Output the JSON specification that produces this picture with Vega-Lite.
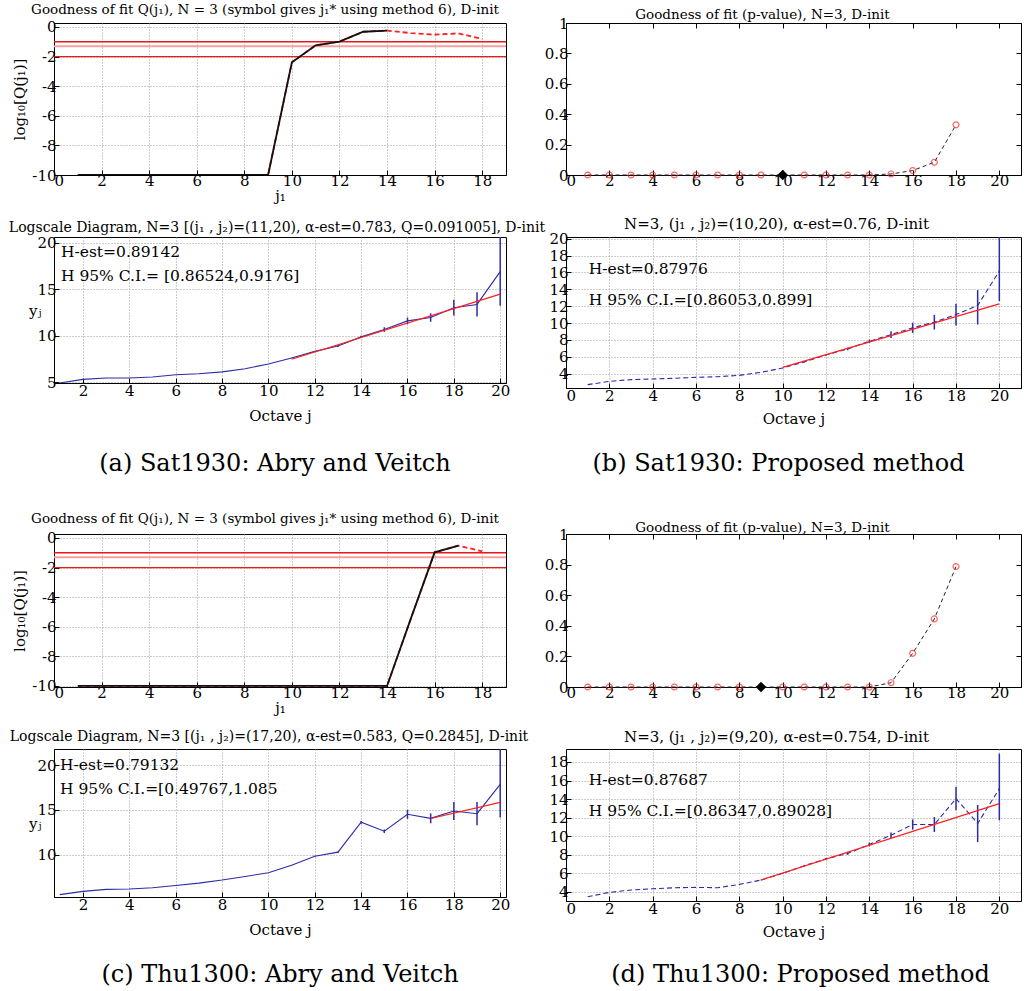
{
  "$schema": "https://vega.github.io/schema/vega-lite/v6.json",
  "padding": {"left": 8, "top": 2, "right": 0, "bottom": 0},
  "background": "white",
  "config": {
    "font": "DejaVu Serif",
    "view": {"stroke": "black", "strokeWidth": 1},
    "axis": {
      "domainColor": "black", "tickColor": "black", "labelColor": "black",
      "labelFont": "DejaVu Serif", "labelFontSize": 15, "labelPadding": 3, "labelOverlap": false,
      "gridColor": "#9a9a9a", "gridDash": [1, 2], "gridOpacity": 1, "gridWidth": 1,
      "ticks": true, "tickSize": -5,
      "titleFont": "DejaVu Serif", "titleFontWeight": "normal", "titleFontSize": 15, "titleColor": "black"
    },
    "title": {"font": "DejaVu Serif", "fontSize": 13.5, "fontWeight": "normal", "color": "black"}
  },
  "datasets": {
    "thr": [{"level": "p10", "v": -1}, {"level": "p05", "v": -1.301}, {"level": "p01", "v": -2}],
    "aq": [
      {"j": 1, "q": -10}, {"j": 2, "q": -10}, {"j": 3, "q": -10}, {"j": 4, "q": -10}, {"j": 5, "q": -10},
      {"j": 6, "q": -10}, {"j": 7, "q": -10}, {"j": 8, "q": -10}, {"j": 9, "q": -10}, {"j": 10, "q": -2.39},
      {"j": 11, "q": -1.24}, {"j": 12, "q": -0.99}, {"j": 13, "q": -0.32}, {"j": 14, "q": -0.25}, {"j": 15, "q": -0.41},
      {"j": 16, "q": -0.52}, {"j": 17, "q": -0.43}, {"j": 18, "q": -0.81}
    ],
    "cq": [
      {"j": 1, "q": -10}, {"j": 2, "q": -10}, {"j": 3, "q": -10}, {"j": 4, "q": -10}, {"j": 5, "q": -10},
      {"j": 6, "q": -10}, {"j": 7, "q": -10}, {"j": 8, "q": -10}, {"j": 9, "q": -10}, {"j": 10, "q": -10},
      {"j": 11, "q": -10}, {"j": 12, "q": -10}, {"j": 13, "q": -10}, {"j": 14, "q": -10}, {"j": 15, "q": -5.45},
      {"j": 16, "q": -0.97}, {"j": 17, "q": -0.52}, {"j": 18, "q": -0.9}
    ],
    "bp": [
      {"j": 1, "p": 0}, {"j": 2, "p": 0}, {"j": 3, "p": 0}, {"j": 4, "p": 0}, {"j": 5, "p": 0},
      {"j": 6, "p": 0}, {"j": 7, "p": 0}, {"j": 8, "p": 0}, {"j": 9, "p": 0}, {"j": 10, "p": 0},
      {"j": 11, "p": 0}, {"j": 12, "p": 0}, {"j": 13, "p": 0}, {"j": 14, "p": 0}, {"j": 15, "p": 0.007},
      {"j": 16, "p": 0.029}, {"j": 17, "p": 0.084}, {"j": 18, "p": 0.33}
    ],
    "dp": [
      {"j": 1, "p": 0}, {"j": 2, "p": 0}, {"j": 3, "p": 0}, {"j": 4, "p": 0}, {"j": 5, "p": 0},
      {"j": 6, "p": 0}, {"j": 7, "p": 0}, {"j": 8, "p": 0}, {"j": 9, "p": 0}, {"j": 10, "p": 0},
      {"j": 11, "p": 0}, {"j": 12, "p": 0}, {"j": 13, "p": 0}, {"j": 14, "p": 0}, {"j": 15, "p": 0.028},
      {"j": 16, "p": 0.22}, {"j": 17, "p": 0.445}, {"j": 18, "p": 0.787}
    ],
    "bstar": [{"j": 10, "p": 0}],
    "dstar": [{"j": 9, "p": 0}],
    "ab": [
      {"j": 1, "y": 4.9, "lo": 4.9, "hi": 4.9}, {"j": 2, "y": 5.29, "lo": 5.29, "hi": 5.29},
      {"j": 3, "y": 5.43, "lo": 5.43, "hi": 5.43}, {"j": 4, "y": 5.43, "lo": 5.43, "hi": 5.43},
      {"j": 5, "y": 5.54, "lo": 5.54, "hi": 5.54}, {"j": 6, "y": 5.79, "lo": 5.79, "hi": 5.79},
      {"j": 7, "y": 5.9, "lo": 5.9, "hi": 5.9}, {"j": 8, "y": 6.1, "lo": 6.1, "hi": 6.1},
      {"j": 9, "y": 6.44, "lo": 6.44, "hi": 6.44}, {"j": 10, "y": 6.94, "lo": 6.94, "hi": 6.94},
      {"j": 11, "y": 7.59, "lo": 7.57, "hi": 7.61}, {"j": 12, "y": 8.3, "lo": 8.25, "hi": 8.35},
      {"j": 13, "y": 8.88, "lo": 8.78, "hi": 8.98}, {"j": 14, "y": 9.86, "lo": 9.74, "hi": 9.98},
      {"j": 15, "y": 10.65, "lo": 10.4, "hi": 10.9}, {"j": 16, "y": 11.58, "lo": 11.22, "hi": 11.94},
      {"j": 17, "y": 11.94, "lo": 11.49, "hi": 12.39}, {"j": 18, "y": 13.0, "lo": 12.15, "hi": 13.85},
      {"j": 19, "y": 13.35, "lo": 12.05, "hi": 14.65}, {"j": 20, "y": 16.87, "lo": 13.2, "hi": 20.6}
    ],
    "bb": [
      {"j": 1, "y": 2.7, "lo": 2.7, "hi": 2.7}, {"j": 2, "y": 3.09, "lo": 3.09, "hi": 3.09},
      {"j": 3, "y": 3.29, "lo": 3.29, "hi": 3.29}, {"j": 4, "y": 3.37, "lo": 3.37, "hi": 3.37},
      {"j": 5, "y": 3.45, "lo": 3.45, "hi": 3.45}, {"j": 6, "y": 3.56, "lo": 3.56, "hi": 3.56},
      {"j": 7, "y": 3.64, "lo": 3.64, "hi": 3.64}, {"j": 8, "y": 3.8, "lo": 3.8, "hi": 3.8},
      {"j": 9, "y": 4.16, "lo": 4.16, "hi": 4.16}, {"j": 10, "y": 4.67, "lo": 4.65, "hi": 4.69},
      {"j": 11, "y": 5.39, "lo": 5.34, "hi": 5.44}, {"j": 12, "y": 6.22, "lo": 6.14, "hi": 6.3},
      {"j": 13, "y": 6.93, "lo": 6.78, "hi": 7.08}, {"j": 14, "y": 7.84, "lo": 7.64, "hi": 8.04},
      {"j": 15, "y": 8.63, "lo": 8.23, "hi": 9.03}, {"j": 16, "y": 9.43, "lo": 8.83, "hi": 10.03},
      {"j": 17, "y": 10.1, "lo": 9.23, "hi": 10.97}, {"j": 18, "y": 11.0, "lo": 9.7, "hi": 12.3},
      {"j": 19, "y": 12.08, "lo": 9.82, "hi": 13.9}, {"j": 20, "y": 16.16, "lo": 12.6, "hi": 20.2}
    ],
    "cb": [
      {"j": 1, "y": 5.56, "lo": 5.56, "hi": 5.56}, {"j": 2, "y": 5.93, "lo": 5.93, "hi": 5.93},
      {"j": 3, "y": 6.15, "lo": 6.15, "hi": 6.15}, {"j": 4, "y": 6.19, "lo": 6.19, "hi": 6.19},
      {"j": 5, "y": 6.33, "lo": 6.33, "hi": 6.33}, {"j": 6, "y": 6.59, "lo": 6.59, "hi": 6.59},
      {"j": 7, "y": 6.85, "lo": 6.85, "hi": 6.85}, {"j": 8, "y": 7.19, "lo": 7.19, "hi": 7.19},
      {"j": 9, "y": 7.59, "lo": 7.59, "hi": 7.59}, {"j": 10, "y": 8.0, "lo": 8.0, "hi": 8.0},
      {"j": 11, "y": 8.85, "lo": 8.83, "hi": 8.87}, {"j": 12, "y": 9.85, "lo": 9.81, "hi": 9.89},
      {"j": 13, "y": 10.3, "lo": 10.22, "hi": 10.38}, {"j": 14, "y": 13.63, "lo": 13.48, "hi": 13.78},
      {"j": 15, "y": 12.63, "lo": 12.43, "hi": 12.83}, {"j": 16, "y": 14.52, "lo": 14.02, "hi": 15.02},
      {"j": 17, "y": 14.07, "lo": 13.52, "hi": 14.62}, {"j": 18, "y": 14.89, "lo": 13.89, "hi": 15.89},
      {"j": 19, "y": 14.59, "lo": 13.29, "hi": 15.89}, {"j": 20, "y": 17.85, "lo": 14.15, "hi": 21.7}
    ],
    "db": [
      {"j": 1, "y": 3.46, "lo": 3.46, "hi": 3.46}, {"j": 2, "y": 3.93, "lo": 3.93, "hi": 3.93},
      {"j": 3, "y": 4.18, "lo": 4.18, "hi": 4.18}, {"j": 4, "y": 4.32, "lo": 4.32, "hi": 4.32},
      {"j": 5, "y": 4.43, "lo": 4.43, "hi": 4.43}, {"j": 6, "y": 4.47, "lo": 4.47, "hi": 4.47},
      {"j": 7, "y": 4.43, "lo": 4.43, "hi": 4.43}, {"j": 8, "y": 4.79, "lo": 4.79, "hi": 4.79},
      {"j": 9, "y": 5.26, "lo": 5.24, "hi": 5.28}, {"j": 10, "y": 5.97, "lo": 5.92, "hi": 6.02},
      {"j": 11, "y": 6.8, "lo": 6.73, "hi": 6.87}, {"j": 12, "y": 7.55, "lo": 7.45, "hi": 7.65},
      {"j": 13, "y": 8.13, "lo": 7.98, "hi": 8.28}, {"j": 14, "y": 9.1, "lo": 8.9, "hi": 9.3},
      {"j": 15, "y": 10.1, "lo": 9.8, "hi": 10.4}, {"j": 16, "y": 11.25, "lo": 10.7, "hi": 11.8},
      {"j": 17, "y": 11.25, "lo": 10.45, "hi": 12.05}, {"j": 18, "y": 14.05, "lo": 12.8, "hi": 15.3},
      {"j": 19, "y": 11.36, "lo": 9.36, "hi": 13.36}, {"j": 20, "y": 15.13, "lo": 11.7, "hi": 18.9}
    ],
    "af": [{"j": 11, "y": 7.45}, {"j": 20, "y": 14.45}],
    "bf": [{"j": 10, "y": 4.75}, {"j": 20, "y": 12.28}],
    "cf": [{"j": 17, "y": 14.05}, {"j": 20, "y": 15.85}],
    "df": [{"j": 9, "y": 5.26}, {"j": 20, "y": 13.5}],
    "at": [{"j": 1.05, "y": 19.0, "t": "H-est=0.89142"}, {"j": 1.05, "y": 16.4, "t": "H 95% C.I.= [0.86524,0.9176]"}],
    "bt": [{"j": 1.05, "y": 16.4, "t": "H-est=0.87976"}, {"j": 1.05, "y": 12.7, "t": "H 95% C.I.=[0.86053,0.899]"}],
    "ct": [{"j": 1.01, "y": 20.0, "t": "H-est=0.79132"}, {"j": 1.01, "y": 17.3, "t": "H 95% C.I.=[0.49767,1.085"}],
    "dt": [{"j": 1.05, "y": 16.05, "t": "H-est=0.87687"}, {"j": 1.05, "y": 12.7, "t": "H 95% C.I.=[0.86347,0.89028]"}],
    "capa": [{"cap": "(a) Sat1930: Abry and Veitch"}],
    "capb": [{"cap": "(b) Sat1930: Proposed method"}],
    "capc": [{"cap": "(c) Thu1300: Abry and Veitch"}],
    "capd": [{"cap": "(d) Thu1300: Proposed method"}]
  },
  "bounds": "flush",
  "align": "each",
  "columns": 2,
  "spacing": {"row": 62, "column": 60},
  "concat": [
    {
      "width": 452, "height": 152,
      "title": {"text": "Goodness of fit Q(j₁), N = 3 (symbol gives j₁* using method 6), D-init", "dx": -15, "offset": 3},
      "layer": [
        {"data": {"name": "thr"}, "transform": [{"filter": "datum.level == 'p05'"}], "mark": {"type": "rule", "clip": true, "color": "#f5a0a0", "strokeWidth": 2.2},
         "encoding": {
           "y": {"field": "v", "type": "quantitative", "scale": {"domain": [-10, 0.27], "nice": false, "zero": false},
                 "axis": {"values": [0, -2, -4, -6, -8, -10], "tickCount": 50, "title": "log₁₀[Q(j₁)]", "labelExpr": "'' + datum.value", "grid": true}}}},
        {"data": {"name": "thr"}, "transform": [{"filter": "datum.level != 'p05'"}], "mark": {"type": "rule", "clip": true, "color": "#e8191a", "strokeWidth": 1.4},
         "encoding": {"y": {"field": "v", "type": "quantitative"}}},
        {"data": {"name": "aq"}, "mark": {"type": "line", "color": "#ff1f1f", "strokeDash": [5, 3], "strokeWidth": 1.8, "clip": true},
         "encoding": {
           "x": {"field": "j", "type": "quantitative", "scale": {"domain": [0, 19], "nice": false}, "axis": {"values": [0, 2, 4, 6, 8, 10, 12, 14, 16, 18], "tickCount": 50, "labelExpr": "'' + datum.value", "title": "j₁", "grid": true, "titlePadding": 0}},
           "y": {"field": "q", "type": "quantitative"}}},
        {"data": {"name": "aq"}, "transform": [{"filter": "datum.j <= 14"}], "mark": {"type": "line", "color": "#111", "strokeWidth": 1.8, "clip": true},
         "encoding": {"x": {"field": "j", "type": "quantitative"}, "y": {"field": "q", "type": "quantitative"}}}
      ]
    },
    {
      "width": 455, "height": 152,
      "title": {"text": "Goodness of fit (p-value), N=3, D-init", "dx": -31, "offset": -5},
      "resolve": {"axis": {"x": "independent", "y": "independent"}},
      "layer": [
        {"data": {"name": "bp"}, "mark": {"type": "line", "color": "#222", "strokeDash": [4, 3], "strokeWidth": 1},
         "encoding": {
           "x": {"field": "j", "type": "quantitative", "scale": {"domain": [0, 21], "nice": false}, "axis": {"values": [0, 2, 4, 6, 8, 10, 12, 14, 16, 18, 20], "tickCount": 50, "labelExpr": "'' + datum.value", "title": null, "grid": false}},
           "y": {"field": "p", "type": "quantitative", "scale": {"domain": [0, 1], "nice": false}, "axis": {"values": [0, 0.2, 0.4, 0.6, 0.8, 1], "tickCount": 50, "labelExpr": "'' + datum.value", "title": null, "grid": false}}}},
        {"data": {"name": "bp"}, "mark": {"type": "point", "shape": "circle", "filled": false, "color": "#ff2020", "size": 35, "strokeWidth": 1.2},
         "encoding": {
           "x": {"field": "j", "type": "quantitative", "axis": {"orient": "top", "values": [0, 2, 4, 6, 8, 10, 12, 14, 16, 18, 20], "tickCount": 50, "labels": false, "domain": false, "grid": false, "title": null}},
           "y": {"field": "p", "type": "quantitative", "axis": {"orient": "right", "values": [0, 0.2, 0.4, 0.6, 0.8, 1], "tickCount": 50, "labels": false, "domain": false, "grid": false, "title": null}}}},
        {"data": {"name": "bstar"}, "mark": {"type": "point", "shape": "diamond", "filled": true, "color": "black", "size": 110, "opacity": 1},
         "encoding": {"x": {"field": "j", "type": "quantitative", "axis": null}, "y": {"field": "p", "type": "quantitative", "axis": null}}}
      ]
    },
    {
      "width": 452, "height": 146,
      "title": {"text": "Logscale Diagram, N=3 [(j₁ , j₂)=(11,20), α-est=0.783, Q=0.091005], D-init", "fontSize": 14, "dx": -3, "offset": 1},
      "layer": [
        {"data": {"name": "ab"}, "mark": {"type": "line", "color": "#2c2ca6", "strokeWidth": 1.1, "clip": true},
         "encoding": {
           "x": {"field": "j", "type": "quantitative", "scale": {"domain": [0.75, 20.25], "nice": false, "zero": false}, "axis": {"values": [2, 4, 6, 8, 10, 12, 14, 16, 18, 20], "tickCount": 50, "labelExpr": "'' + datum.value", "title": "Octave j", "grid": true, "labelPadding": 5, "titlePadding": 10}},
           "y": {"field": "y", "type": "quantitative", "scale": {"domain": [4.9, 20.6], "nice": false, "zero": false}, "axis": {"values": [5, 10, 15, 20], "tickCount": 50, "labelExpr": "'' + datum.value", "title": "yⱼ", "titleAngle": 0, "titleAlign": "right", "titleBaseline": "middle", "titlePadding": -4, "grid": true}}}},
        {"data": {"name": "ab"}, "mark": {"type": "rule", "color": "#2c2ca6", "strokeWidth": 1.5, "clip": true},
         "encoding": {"x": {"field": "j", "type": "quantitative"}, "y": {"field": "lo", "type": "quantitative"}, "y2": {"field": "hi"}}},
        {"data": {"name": "af"}, "mark": {"type": "line", "color": "#ff1f1f", "strokeWidth": 1.2, "clip": true},
         "encoding": {"x": {"field": "j", "type": "quantitative"}, "y": {"field": "y", "type": "quantitative"}}},
        {"data": {"name": "at"}, "mark": {"type": "text", "align": "left", "baseline": "middle", "fontSize": 15.5, "font": "DejaVu Serif", "color": "black"},
         "encoding": {"x": {"field": "j", "type": "quantitative"}, "y": {"field": "y", "type": "quantitative"}, "text": {"field": "t"}}}
      ]
    },
    {
      "width": 455, "height": 151,
      "title": {"text": "N=3, (j₁ , j₂)=(10,20), α-est=0.76, D-init", "fontSize": 15, "dx": -17, "offset": 0},
      "layer": [
        {"data": {"name": "bb"}, "mark": {"type": "line", "color": "#2c2ca6", "strokeWidth": 1.1, "strokeDash": [5, 3], "clip": true},
         "encoding": {
           "x": {"field": "j", "type": "quantitative", "scale": {"domain": [0, 21], "nice": false, "zero": false}, "axis": {"values": [0, 2, 4, 6, 8, 10, 12, 14, 16, 18, 20], "tickCount": 50, "labelExpr": "'' + datum.value", "title": "Octave j", "grid": true, "labelPadding": 5, "titlePadding": 8}},
           "y": {"field": "y", "type": "quantitative", "scale": {"domain": [2.3, 20.2], "nice": false, "zero": false}, "axis": {"values": [4, 6, 8, 10, 12, 14, 16, 18, 20], "tickCount": 50, "labelExpr": "'' + datum.value", "title": null, "grid": true}}}},
        {"data": {"name": "bb"}, "mark": {"type": "rule", "color": "#2c2ca6", "strokeWidth": 1.5, "clip": true},
         "encoding": {"x": {"field": "j", "type": "quantitative"}, "y": {"field": "lo", "type": "quantitative"}, "y2": {"field": "hi"}}},
        {"data": {"name": "bf"}, "mark": {"type": "line", "color": "#ff1f1f", "strokeWidth": 1.2, "clip": true},
         "encoding": {"x": {"field": "j", "type": "quantitative"}, "y": {"field": "y", "type": "quantitative"}}},
        {"data": {"name": "bt"}, "mark": {"type": "text", "align": "left", "baseline": "middle", "fontSize": 15.5, "font": "DejaVu Serif", "color": "black"},
         "encoding": {"x": {"field": "j", "type": "quantitative"}, "y": {"field": "y", "type": "quantitative"}, "text": {"field": "t"}}}
      ]
    },
    {
      "width": 452, "height": 22, "view": {"stroke": null},
      "data": {"name": "capa"},
      "mark": {"type": "text", "fontSize": 24, "font": "DejaVu Serif", "color": "black", "dx": -5, "dy": 3, "baseline": "middle"},
      "encoding": {"text": {"field": "cap"}}
    },
    {
      "width": 455, "height": 22, "view": {"stroke": null},
      "data": {"name": "capb"},
      "mark": {"type": "text", "fontSize": 24, "font": "DejaVu Serif", "color": "black", "dx": -15, "dy": 3, "baseline": "middle"},
      "encoding": {"text": {"field": "cap"}}
    },
    {
      "width": 452, "height": 153,
      "title": {"text": "Goodness of fit Q(j₁), N = 3 (symbol gives j₁* using method 6), D-init", "dx": -15, "offset": 5},
      "layer": [
        {"data": {"name": "thr"}, "transform": [{"filter": "datum.level == 'p05'"}], "mark": {"type": "rule", "clip": true, "color": "#f5a0a0", "strokeWidth": 2.2},
         "encoding": {
           "y": {"field": "v", "type": "quantitative", "scale": {"domain": [-10.07, 0.27], "nice": false, "zero": false},
                 "axis": {"values": [0, -2, -4, -6, -8, -10], "tickCount": 50, "title": "log₁₀[Q(j₁)]", "labelExpr": "'' + datum.value", "grid": true}}}},
        {"data": {"name": "thr"}, "transform": [{"filter": "datum.level != 'p05'"}], "mark": {"type": "rule", "clip": true, "color": "#e8191a", "strokeWidth": 1.4},
         "encoding": {"y": {"field": "v", "type": "quantitative"}}},
        {"data": {"name": "cq"}, "mark": {"type": "line", "color": "#ff1f1f", "strokeDash": [5, 3], "strokeWidth": 1.8, "clip": true},
         "encoding": {
           "x": {"field": "j", "type": "quantitative", "scale": {"domain": [0, 19], "nice": false}, "axis": {"values": [0, 2, 4, 6, 8, 10, 12, 14, 16, 18], "tickCount": 50, "labelExpr": "'' + datum.value", "title": "j₁", "grid": true, "titlePadding": 0}},
           "y": {"field": "q", "type": "quantitative"}}},
        {"data": {"name": "cq"}, "transform": [{"filter": "datum.j <= 17"}], "mark": {"type": "line", "color": "#111", "strokeWidth": 1.8, "clip": true},
         "encoding": {"x": {"field": "j", "type": "quantitative"}, "y": {"field": "q", "type": "quantitative"}}}
      ]
    },
    {
      "width": 455, "height": 153,
      "title": {"text": "Goodness of fit (p-value), N=3, D-init", "dx": -31, "offset": -7},
      "resolve": {"axis": {"x": "independent", "y": "independent"}},
      "layer": [
        {"data": {"name": "dp"}, "mark": {"type": "line", "color": "#222", "strokeDash": [4, 3], "strokeWidth": 1},
         "encoding": {
           "x": {"field": "j", "type": "quantitative", "scale": {"domain": [0, 21], "nice": false}, "axis": {"values": [0, 2, 4, 6, 8, 10, 12, 14, 16, 18, 20], "tickCount": 50, "labelExpr": "'' + datum.value", "title": null, "grid": false}},
           "y": {"field": "p", "type": "quantitative", "scale": {"domain": [0, 1], "nice": false}, "axis": {"values": [0, 0.2, 0.4, 0.6, 0.8, 1], "tickCount": 50, "labelExpr": "'' + datum.value", "title": null, "grid": false}}}},
        {"data": {"name": "dp"}, "mark": {"type": "point", "shape": "circle", "filled": false, "color": "#ff2020", "size": 35, "strokeWidth": 1.2},
         "encoding": {
           "x": {"field": "j", "type": "quantitative", "axis": {"orient": "top", "values": [0, 2, 4, 6, 8, 10, 12, 14, 16, 18, 20], "tickCount": 50, "labels": false, "domain": false, "grid": false, "title": null}},
           "y": {"field": "p", "type": "quantitative", "axis": {"orient": "right", "values": [0, 0.2, 0.4, 0.6, 0.8, 1], "tickCount": 50, "labels": false, "domain": false, "grid": false, "title": null}}}},
        {"data": {"name": "dstar"}, "mark": {"type": "point", "shape": "diamond", "filled": true, "color": "black", "size": 110, "opacity": 1},
         "encoding": {"x": {"field": "j", "type": "quantitative", "axis": null}, "y": {"field": "p", "type": "quantitative", "axis": null}}}
      ]
    },
    {
      "width": 452, "height": 148,
      "title": {"text": "Logscale Diagram, N=3 [(j₁ , j₂)=(17,20), α-est=0.583, Q=0.2845], D-init", "fontSize": 14, "dx": -11, "offset": 5},
      "layer": [
        {"data": {"name": "cb"}, "mark": {"type": "line", "color": "#2c2ca6", "strokeWidth": 1.1, "clip": true},
         "encoding": {
           "x": {"field": "j", "type": "quantitative", "scale": {"domain": [0.75, 20.25], "nice": false, "zero": false}, "axis": {"values": [2, 4, 6, 8, 10, 12, 14, 16, 18, 20], "tickCount": 50, "labelExpr": "'' + datum.value", "title": "Octave j", "grid": true, "labelPadding": 5, "titlePadding": 10}},
           "y": {"field": "y", "type": "quantitative", "scale": {"domain": [5.3, 21.8], "nice": false, "zero": false}, "axis": {"values": [10, 15, 20], "tickCount": 50, "labelExpr": "'' + datum.value", "title": "yⱼ", "titleAngle": 0, "titleAlign": "right", "titleBaseline": "middle", "titlePadding": -4, "grid": true}}}},
        {"data": {"name": "cb"}, "mark": {"type": "rule", "color": "#2c2ca6", "strokeWidth": 1.5, "clip": true},
         "encoding": {"x": {"field": "j", "type": "quantitative"}, "y": {"field": "lo", "type": "quantitative"}, "y2": {"field": "hi"}}},
        {"data": {"name": "cf"}, "mark": {"type": "line", "color": "#ff1f1f", "strokeWidth": 1.2, "clip": true},
         "encoding": {"x": {"field": "j", "type": "quantitative"}, "y": {"field": "y", "type": "quantitative"}}},
        {"data": {"name": "ct"}, "mark": {"type": "text", "align": "left", "baseline": "middle", "fontSize": 15.5, "font": "DejaVu Serif", "color": "black"},
         "encoding": {"x": {"field": "j", "type": "quantitative"}, "y": {"field": "y", "type": "quantitative"}, "text": {"field": "t"}}}
      ]
    },
    {
      "width": 455, "height": 152,
      "title": {"text": "N=3, (j₁ , j₂)=(9,20), α-est=0.754, D-init", "fontSize": 15, "dx": -17, "offset": 4},
      "layer": [
        {"data": {"name": "db"}, "mark": {"type": "line", "color": "#2c2ca6", "strokeWidth": 1.1, "strokeDash": [5, 3], "clip": true},
         "encoding": {
           "x": {"field": "j", "type": "quantitative", "scale": {"domain": [0, 21], "nice": false, "zero": false}, "axis": {"values": [0, 2, 4, 6, 8, 10, 12, 14, 16, 18, 20], "tickCount": 50, "labelExpr": "'' + datum.value", "title": "Octave j", "grid": true, "labelPadding": 5, "titlePadding": 8}},
           "y": {"field": "y", "type": "quantitative", "scale": {"domain": [3, 19.4], "nice": false, "zero": false}, "axis": {"values": [4, 6, 8, 10, 12, 14, 16, 18], "tickCount": 50, "labelExpr": "'' + datum.value", "title": null, "grid": true}}}},
        {"data": {"name": "db"}, "mark": {"type": "rule", "color": "#2c2ca6", "strokeWidth": 1.5, "clip": true},
         "encoding": {"x": {"field": "j", "type": "quantitative"}, "y": {"field": "lo", "type": "quantitative"}, "y2": {"field": "hi"}}},
        {"data": {"name": "df"}, "mark": {"type": "line", "color": "#ff1f1f", "strokeWidth": 1.2, "clip": true},
         "encoding": {"x": {"field": "j", "type": "quantitative"}, "y": {"field": "y", "type": "quantitative"}}},
        {"data": {"name": "dt"}, "mark": {"type": "text", "align": "left", "baseline": "middle", "fontSize": 15.5, "font": "DejaVu Serif", "color": "black"},
         "encoding": {"x": {"field": "j", "type": "quantitative"}, "y": {"field": "y", "type": "quantitative"}, "text": {"field": "t"}}}
      ]
    },
    {
      "width": 452, "height": 22, "view": {"stroke": null},
      "data": {"name": "capc"},
      "mark": {"type": "text", "fontSize": 24, "font": "DejaVu Serif", "color": "black", "dx": 0, "dy": 1, "baseline": "middle"},
      "encoding": {"text": {"field": "cap"}}
    },
    {
      "width": 455, "height": 22, "view": {"stroke": null},
      "data": {"name": "capd"},
      "mark": {"type": "text", "fontSize": 24, "font": "DejaVu Serif", "color": "black", "dx": 7, "dy": 1, "baseline": "middle"},
      "encoding": {"text": {"field": "cap"}}
    }
  ]
}
